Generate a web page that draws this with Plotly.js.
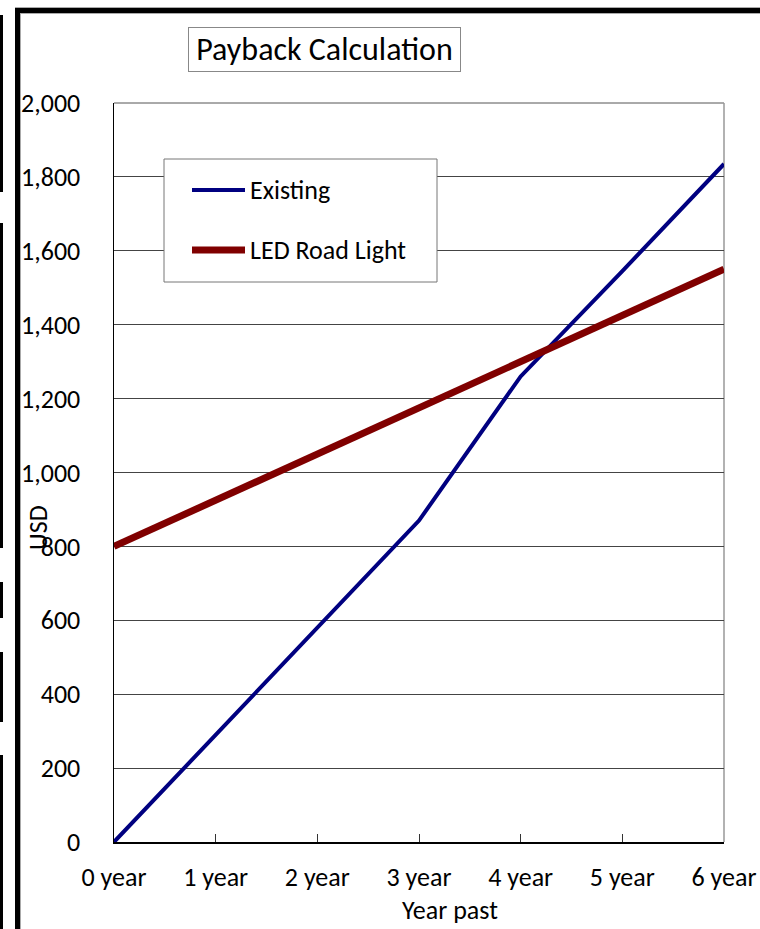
<!DOCTYPE html>
<html>
<head>
<meta charset="utf-8">
<script src="https://cdn.plot.ly/plotly-3.0.1.min.js"></script>
<style>
html,body{margin:0;padding:0;background:#fff;}
#chart{width:760px;height:929px;}
</style>
</head>
<body>
<div id="chart"></div>
<script>
// ---- data ----
var categories = ["0 year", "1 year", "2 year", "3 year", "4 year", "5 year", "6 year"];
var existingValues = [0, 290, 580, 870, 1260, 1545, 1835];
var ledValues = [800, 925, 1050, 1175, 1300, 1425, 1550];
var seriesNames = ["Existing", "LED Road Light"];
var chartTitle = "Payback Calculation";
var yTitle = "USD";
var xTitle = "Year past";

// ---- layout geometry ----
var W = 760, H = 929;
var L = 114, R = 724, T = 103, B = 842;
function px(x) { return (x - L) / (R - L); }
function py(y) { return (B - y) / (B - T); }

var FONT = "Carlito, Calibri, Lato, 'Open Sans', sans-serif";
var colors = ["#000080", "#800000"];
var widths = [4, 7];

var traces = [
  { x: categories, y: existingValues, name: seriesNames[0], type: "scatter", mode: "lines",
    line: { color: colors[0], width: widths[0] }, showlegend: false, cliponaxis: false },
  { x: categories, y: ledValues, name: seriesNames[1], type: "scatter", mode: "lines",
    line: { color: colors[1], width: widths[1] }, showlegend: false, cliponaxis: false }
];

var shapes = [];
// plot frame top/right in gray
shapes.push({ type: "line", xref: "paper", yref: "paper", x0: 0, x1: 1, y0: 1, y1: 1, line: { color: "#555", width: 1 }, layer: "below" });
shapes.push({ type: "line", xref: "paper", yref: "paper", x0: 1, x1: 1, y0: 0, y1: 1, line: { color: "#999", width: 1.5 }, layer: "below" });
// outer thick frame
shapes.push({ type: "rect", xref: "paper", yref: "paper", x0: px(15), x1: px(20), y0: py(940), y1: py(8), fillcolor: "#000", line: { width: 0 } });
shapes.push({ type: "rect", xref: "paper", yref: "paper", x0: px(15), x1: px(770), y0: py(13), y1: py(8), fillcolor: "#000", line: { width: 0 } });
shapes.push({ type: "line", xref: "paper", yref: "paper", x0: px(20.5), x1: px(20.5), y0: py(940), y1: py(13), line: { color: "#aaa", width: 1 } });
shapes.push({ type: "line", xref: "paper", yref: "paper", x0: px(20), x1: px(770), y0: py(13.5), y1: py(13.5), line: { color: "#aaa", width: 1 } });
shapes.push({ type: "line", xref: "paper", yref: "paper", x0: px(15), x1: px(770), y0: py(7.5), y1: py(7.5), line: { color: "#aaa", width: 1 } });
// left edge artifacts
var segs = [[15, 192], [223, 548], [582, 618], [652, 722], [755, 940]];
segs.forEach(function (s) {
  shapes.push({ type: "rect", xref: "paper", yref: "paper", x0: px(-1), x1: px(3), y0: py(s[1]), y1: py(s[0]), fillcolor: "#000", line: { width: 0 } });
});
// legend box
shapes.push({ type: "rect", xref: "paper", yref: "paper", x0: px(164), x1: px(437), y0: py(282), y1: py(159), fillcolor: "#fff", line: { color: "#777", width: 1 } });
var legY = [190, 250];
seriesNames.forEach(function (n, i) {
  shapes.push({ type: "line", xref: "paper", yref: "paper", x0: px(192), x1: px(245), y0: py(legY[i]), y1: py(legY[i]), line: { color: colors[i], width: widths[i] } });
});

var annotations = [];
annotations.push({ xref: "paper", yref: "paper", x: px(324.5), y: py(49.5), xanchor: "center", yanchor: "middle",
  text: chartTitle, showarrow: false, font: { family: FONT, size: 32, color: "#000" },
  bordercolor: "#888", borderwidth: 1, borderpad: 0, bgcolor: "#fff", width: 271, height: 43 });
seriesNames.forEach(function (n, i) {
  annotations.push({ xref: "paper", yref: "paper", x: px(248), y: py(legY[i]), xanchor: "left", yanchor: "middle",
    text: n, showarrow: false, font: { family: FONT, size: 26, color: "#000" } });
});
annotations.push({ xref: "paper", yref: "paper", x: px(38), y: py(528), xanchor: "center", yanchor: "middle",
  text: yTitle, textangle: -90, showarrow: false, font: { family: FONT, size: 26, color: "#000" } });
annotations.push({ xref: "paper", yref: "paper", x: px(450), y: py(910), xanchor: "center", yanchor: "middle",
  text: xTitle, showarrow: false, font: { family: FONT, size: 26, color: "#000" } });

var layout = {
  width: W, height: H,
  margin: { l: L, r: W - R, t: T, b: H - B, pad: 0 },
  paper_bgcolor: "#fff", plot_bgcolor: "#fff",
  font: { family: FONT, size: 26, color: "#000" },
  showlegend: false,
  xaxis: {
    type: "category", categoryorder: "array", categoryarray: categories,
    range: [0, 6], showgrid: false, zeroline: false,
    showline: true, linecolor: "#000", linewidth: 1.5,
    ticks: "inside", ticklen: 8, tickcolor: "#333", tickwidth: 1,
    tickfont: { family: FONT, size: 26, color: "#000" },
    ticklabelstandoff: 11, fixedrange: true
  },
  yaxis: {
    range: [0, 2000], dtick: 200, tick0: 0, tickformat: ",d",
    showgrid: true, gridcolor: "#444", gridwidth: 1, zeroline: false,
    showline: true, linecolor: "#000", linewidth: 1.5,
    ticks: "", tickfont: { family: FONT, size: 26, color: "#000" },
    ticklabelstandoff: 27, fixedrange: true
  },
  shapes: shapes,
  annotations: annotations
};

Plotly.newPlot("chart", traces, layout, { staticPlot: true, displayModeBar: false });
</script>
</body>
</html>
